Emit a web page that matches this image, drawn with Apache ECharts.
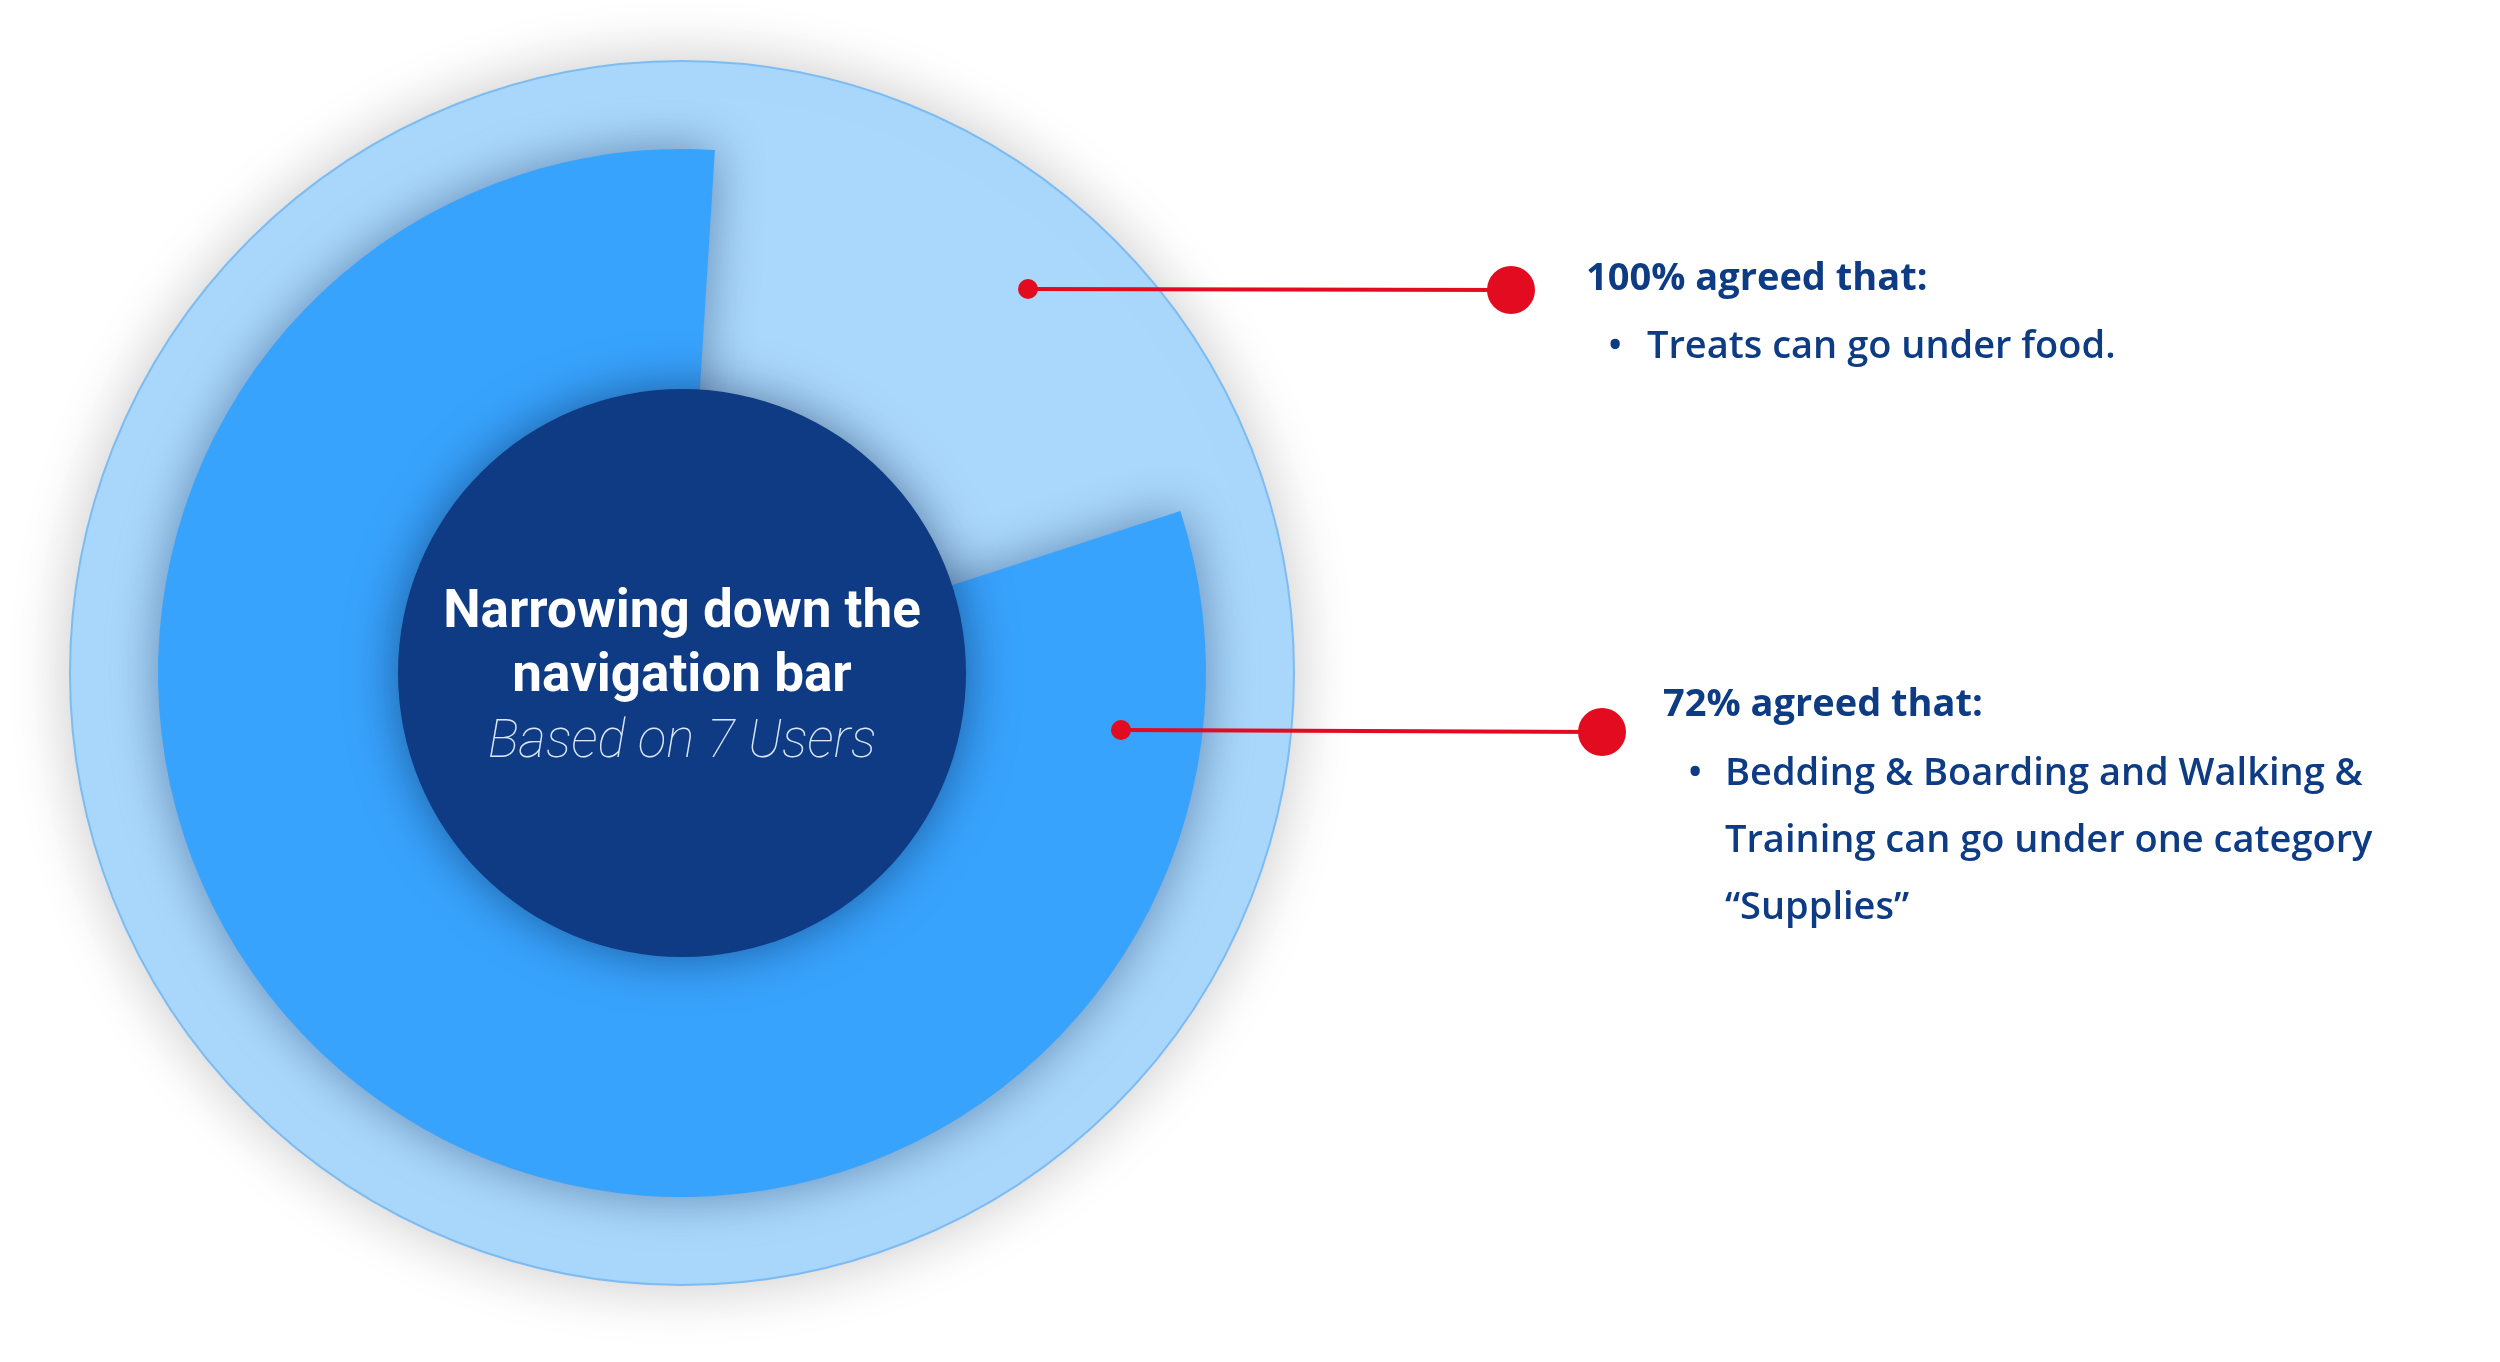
<!DOCTYPE html>
<html>
<head>
<meta charset="utf-8">
<title>Narrowing down the navigation bar</title>
<script src="https://cdn.jsdelivr.net/npm/echarts@6/dist/echarts.min.js"></script>
<style>
    html, body { margin: 0; padding: 0; background: #fff; }
    #chart { width: 2500px; height: 1362px; }
</style>
</head>
<body>
<div id="chart"></div>
<script>
// values
const outerRing = [100];                 // everyone agreed
const sectorNames = ['agreed', 'rest'];
const sectorValues = [81, 19];           // share as drawn in the picture
const coreRing = [100];

const titleLines = ['Narrowing down the', 'navigation bar'];
const subTitle = 'Based on 7 Users';

const noteHeads = ['100% agreed that:', '72% agreed that:'];
const noteBodies = [
    ['Treats can go under food.'],
    ['Bedding & Boarding and Walking &', 'Training can go under one category', '\u201cSupplies\u201d'],
];

const cx = 682, cy = 673;
const navy = '#0d3b84';
const red = '#e20b1f';

const chart = echarts.init(document.getElementById('chart'));

const pieBase = {
    type: 'pie',
    center: [cx, cy],
    silent: true,
    label: { show: false },
    labelLine: { show: false },
    emphasis: { disabled: true },
    animation: false,
};

// callout: small dot, line, big dot
const callout = (x1, y1, x2, y2) => [
    {
        type: 'line',
        shape: { x1: x1, y1: y1, x2: x2, y2: y2 },
        style: { stroke: red, lineWidth: 4 },
        z: 10,
    },
    { type: 'circle', shape: { cx: x1, cy: y1, r: 10 }, style: { fill: red }, z: 11 },
    { type: 'circle', shape: { cx: x2, cy: y2, r: 24 }, style: { fill: red }, z: 11 },
];

const noteText = (x, y, text, weight) => ({
    type: 'text',
    x: x,
    y: y,
    z: 12,
    style: {
        text: text,
        fill: navy,
        fontFamily: 'Open Sans',
        fontSize: 38,
        fontWeight: weight,
        textVerticalAlign: 'middle',
    },
});

const graphics = [];
graphics.push(...callout(1028, 289, 1511, 290));
graphics.push(...callout(1121, 730, 1602, 732));

// first note
graphics.push(noteText(1586, 279, noteHeads[0], 700));
graphics.push(noteText(1608, 347, '\u2022', 600));
noteBodies[0].forEach((line, i) => graphics.push(noteText(1647, 347 + i * 67, line, 600)));

// second note
graphics.push(noteText(1663, 705, noteHeads[1], 700));
graphics.push(noteText(1688, 774, '\u2022', 600));
noteBodies[1].forEach((line, i) => graphics.push(noteText(1725, 774 + i * 67, line, 600)));

// text in the core
titleLines.forEach((line, i) => {
    graphics.push({
        type: 'text',
        x: cx,
        y: 614 + i * 64,
        z: 20,
        style: {
            text: line,
            fill: '#ffffff',
            fontFamily: 'Roboto',
            fontSize: 53,
            fontWeight: 700,
            textAlign: 'center',
            textVerticalAlign: 'middle',
        },
    });
});
graphics.push({
    type: 'text',
    x: cx,
    y: 744,
    z: 20,
    style: {
        text: subTitle,
        fill: '#dbe8fb',
        fontFamily: 'Roboto',
        fontSize: 53,
        fontWeight: 100,
        fontStyle: 'italic',
        textAlign: 'center',
        textVerticalAlign: 'middle',
    },
});

chart.setOption({
    backgroundColor: '#ffffff',
    graphic: graphics,
    series: [
        {
            ...pieBase,
            name: 'all',
            radius: [0, 612],
            z: 1,
            data: outerRing.map((v) => ({
                value: v,
                itemStyle: {
                    color: '#aad8fc',
                    borderColor: '#7cbcf3',
                    borderWidth: 2,
                    shadowBlur: 60,
                    shadowColor: 'rgba(0, 0, 0, 0.22)',
                },
            })),
        },
        {
            ...pieBase,
            name: 'share',
            radius: [0, 524],
            startAngle: 18,
            clockwise: true,
            z: 2,
            data: sectorValues.map((v, i) => ({
                name: sectorNames[i],
                value: v,
                itemStyle: i === 0
                    ? {
                        color: '#38a3fd',
                        shadowBlur: 50,
                        shadowColor: 'rgba(10, 40, 90, 0.45)',
                    }
                    : { color: 'rgba(0, 0, 0, 0)' },
            })),
        },
        {
            ...pieBase,
            name: 'core',
            radius: [0, 284],
            z: 3,
            data: coreRing.map((v) => ({
                value: v,
                itemStyle: {
                    color: '#0e3b83',
                    shadowBlur: 50,
                    shadowColor: 'rgba(0, 20, 60, 0.5)',
                },
            })),
        },
    ],
});
</script>
</body>
</html>
